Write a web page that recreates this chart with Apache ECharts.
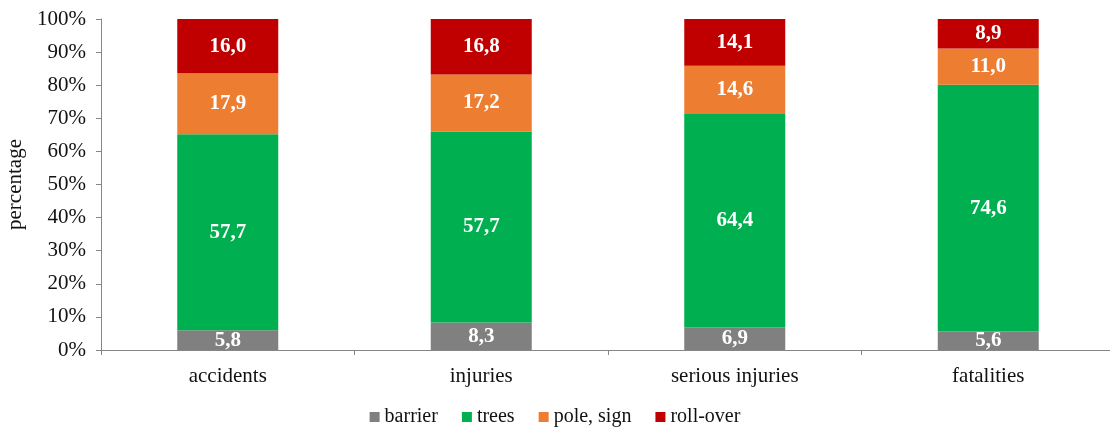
<!DOCTYPE html>
<html>
<head>
<meta charset="utf-8">
<script src="https://cdn.jsdelivr.net/npm/echarts@6/dist/echarts.min.js"></script>
<style>
  html, body { margin: 0; padding: 0; background: #fff; }
  #chart { width: 1110px; height: 430px; }
</style>
</head>
<body>
<div id="chart"></div>
<script>
// categories and values (shares in %)
var categories = ['accidents', 'injuries', 'serious injuries', 'fatalities']
var seriesNames = ['barrier', 'trees', 'pole, sign', 'roll-over']
var barrier = [5.8, 8.3, 6.9, 5.6]
var trees = [57.7, 57.7, 64.4, 74.6]
var poleSign = [17.9, 17.2, 14.6, 11.0]
var rollOver = [16.0, 16.8, 14.1, 8.9]
var yTicks = [0, 10, 20, 30, 40, 50, 60, 70, 80, 90, 100]

var colors = ['#808080', '#00b050', '#ed7d31', '#c00000']
var font = '"Liberation Serif", "Times New Roman", serif'

var raw = [barrier, trees, poleSign, rollOver]
// 100% stacked: each column is scaled to its own total
var totals = categories.map(function (c, i) {
  return raw.reduce(function (s, arr) { return s + arr[i] }, 0)
})

var series = raw.map(function (arr, k) {
  return {
    name: seriesNames[k],
    type: 'bar',
    stack: 'all',
    barWidth: 101,
    itemStyle: { color: colors[k] },
    label: {
      show: true,
      position: 'inside',
      color: '#fff',
      fontFamily: font,
      fontWeight: 'bold',
      fontSize: 21,
      formatter: function (p) {
        return arr[p.dataIndex].toFixed(1).replace('.', ',')
      }
    },
    data: arr.map(function (v, i) { return v / totals[i] * 100 })
  }
})

var chart = echarts.init(document.getElementById('chart'))
var option = {
  animation: false,
  textStyle: { fontFamily: font },
  legend: {
    top: 402,
    left: 'center',
    icon: 'rect',
    itemWidth: 10,
    itemHeight: 10,
    itemGap: 24,
    textStyle: { fontFamily: font, fontSize: 20, color: '#111' },
    data: seriesNames
  },
  grid: { left: 101, top: 19, width: 1014, height: 331, outerBoundsMode: 'none' },
  xAxis: {
    type: 'category',
    data: categories,
    axisLine: { lineStyle: { color: '#868686', width: 1 } },
    axisTick: { show: true, alignWithLabel: false, length: 5, lineStyle: { color: '#868686' } },
    axisLabel: { fontFamily: font, fontSize: 21, color: '#111', margin: 16 }
  },
  yAxis: {
    type: 'value',
    min: yTicks[0],
    max: yTicks[yTicks.length - 1],
    interval: yTicks[1] - yTicks[0],
    name: 'percentage',
    nameLocation: 'middle',
    nameGap: 73,
    nameTextStyle: { fontFamily: font, fontSize: 21, color: '#111' },
    axisLine: { show: true, lineStyle: { color: '#868686', width: 1 } },
    axisTick: { show: true, length: 5, lineStyle: { color: '#868686' } },
    splitLine: { show: false },
    axisLabel: {
      fontFamily: font, fontSize: 21, color: '#111', margin: 15,
      formatter: function (v) { return v + '%' }
    }
  },
  series: series
}
chart.setOption(option)
</script>
</body>
</html>
